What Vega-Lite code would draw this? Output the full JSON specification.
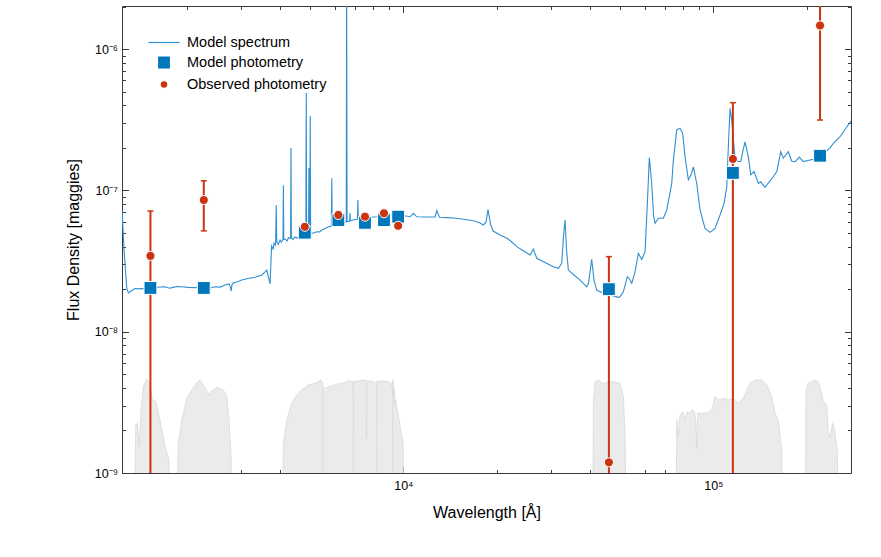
{
  "$schema": "https://vega.github.io/schema/vega-lite/v6.json",
  "width": 729,
  "height": 467,
  "autosize": {"type": "none"},
  "padding": {"left": 122, "top": 6, "right": 30, "bottom": 84},
  "background": "white",
  "config": {
    "font": "Liberation Sans",
    "view": {"stroke": "#3a3a3a", "strokeWidth": 1},
    "axis": {
      "grid": false,
      "domain": false,
      "tickColor": "#3a3a3a",
      "tickWidth": 1,
      "labelColor": "#000000",
      "labelFont": "Liberation Sans",
      "labelFontSize": 12.5,
      "titleFont": "Liberation Sans",
      "titleFontSize": 16,
      "titleFontWeight": "normal",
      "titleColor": "#000000",
      "labelOverlap": false,
      "labelFlush": false
    }
  },
  "datasets": {
    "spectrum": [
      {"w": 1238, "f": 7.15e-8}, {"w": 1256, "f": 3.79e-8}, {"w": 1281, "f": 2.04e-8}, {"w": 1297, "f": 1.88e-8},
      {"w": 1323, "f": 1.94e-8}, {"w": 1363, "f": 2.02e-8}, {"w": 1425, "f": 2.01e-8}, {"w": 1501, "f": 2.06e-8},
      {"w": 1540, "f": 1.98e-8}, {"w": 1581, "f": 2.04e-8}, {"w": 1640, "f": 2.07e-8}, {"w": 1703, "f": 2.08e-8},
      {"w": 1760, "f": 2.03e-8}, {"w": 1807, "f": 2.06e-8}, {"w": 1870, "f": 2.09e-8}, {"w": 1929, "f": 2.08e-8},
      {"w": 2021, "f": 2.06e-8}, {"w": 2129, "f": 2.05e-8}, {"w": 2200, "f": 2.09e-8}, {"w": 2276, "f": 2.06e-8},
      {"w": 2370, "f": 2.03e-8}, {"w": 2470, "f": 2.08e-8}, {"w": 2563, "f": 2.07e-8}, {"w": 2660, "f": 2.14e-8},
      {"w": 2740, "f": 2.18e-8}, {"w": 2770, "f": 2.05e-8}, {"w": 2782, "f": 1.94e-8}, {"w": 2800, "f": 2.15e-8},
      {"w": 2823, "f": 2.21e-8}, {"w": 2920, "f": 2.26e-8}, {"w": 3011, "f": 2.32e-8}, {"w": 3155, "f": 2.38e-8},
      {"w": 3323, "f": 2.43e-8}, {"w": 3493, "f": 2.52e-8}, {"w": 3580, "f": 2.65e-8}, {"w": 3626, "f": 2.73e-8},
      {"w": 3675, "f": 2.40e-8}, {"w": 3715, "f": 2.18e-8}, {"w": 3740, "f": 3.1e-8}, {"w": 3757, "f": 4.04e-8},
      {"w": 3800, "f": 3.85e-8}, {"w": 3827, "f": 4.24e-8}, {"w": 3860, "f": 4.1e-8}, {"w": 3873, "f": 4.3e-8},
      {"w": 3889, "f": 7.88e-8}, {"w": 3905, "f": 4.35e-8}, {"w": 3950, "f": 4.15e-8}, {"w": 4002, "f": 4.46e-8},
      {"w": 4040, "f": 4.3e-8}, {"w": 4090, "f": 4.5e-8}, {"w": 4102, "f": 1.09e-7}, {"w": 4114, "f": 4.5e-8},
      {"w": 4154, "f": 4.53e-8}, {"w": 4220, "f": 4.4e-8}, {"w": 4260, "f": 4.62e-8}, {"w": 4310, "f": 4.58e-8},
      {"w": 4328, "f": 4.6e-8}, {"w": 4341, "f": 2.0e-7}, {"w": 4354, "f": 4.62e-8}, {"w": 4400, "f": 4.5e-8},
      {"w": 4473, "f": 4.68e-8}, {"w": 4560, "f": 4.6e-8}, {"w": 4643, "f": 4.83e-8}, {"w": 4730, "f": 4.75e-8},
      {"w": 4819, "f": 4.91e-8}, {"w": 4846, "f": 4.93e-8}, {"w": 4861, "f": 4.89e-7}, {"w": 4876, "f": 4.94e-8},
      {"w": 4944, "f": 4.96e-8}, {"w": 4959, "f": 1.44e-7}, {"w": 4974, "f": 4.97e-8}, {"w": 4992, "f": 4.98e-8},
      {"w": 5007, "f": 3.36e-7}, {"w": 5022, "f": 4.99e-8}, {"w": 5130, "f": 5.0e-8}, {"w": 5255, "f": 5.10e-8},
      {"w": 5360, "f": 5.08e-8}, {"w": 5466, "f": 5.24e-8}, {"w": 5716, "f": 5.51e-8}, {"w": 5858, "f": 5.6e-8},
      {"w": 5876, "f": 1.22e-7}, {"w": 5894, "f": 5.62e-8}, {"w": 5946, "f": 5.69e-8}, {"w": 6249, "f": 5.83e-8},
      {"w": 6543, "f": 6.0e-8}, {"w": 6563, "f": 3.0e-6}, {"w": 6583, "f": 6.01e-8}, {"w": 6710, "f": 6.08e-8},
      {"w": 6730, "f": 6.92e-8}, {"w": 6750, "f": 6.1e-8}, {"w": 6881, "f": 6.17e-8}, {"w": 7115, "f": 6.28e-8},
      {"w": 7136, "f": 8.55e-8}, {"w": 7157, "f": 6.3e-8}, {"w": 7249, "f": 6.35e-8}, {"w": 7691, "f": 6.43e-8},
      {"w": 8209, "f": 6.51e-8}, {"w": 8796, "f": 6.64e-8}, {"w": 9521, "f": 6.70e-8}, {"w": 9977, "f": 6.64e-8},
      {"w": 10510, "f": 6.51e-8}, {"w": 10772, "f": 6.88e-8}, {"w": 11046, "f": 6.51e-8}, {"w": 11749, "f": 6.48e-8},
      {"w": 12657, "f": 6.49e-8}, {"w": 12818, "f": 7.21e-8}, {"w": 13086, "f": 6.45e-8}, {"w": 13836, "f": 6.42e-8},
      {"w": 14870, "f": 6.35e-8}, {"w": 15812, "f": 6.22e-8}, {"w": 16819, "f": 6.10e-8}, {"w": 17548, "f": 5.93e-8},
      {"w": 18119, "f": 5.69e-8}, {"w": 18486, "f": 5.98e-8}, {"w": 18751, "f": 7.35e-8}, {"w": 19112, "f": 5.78e-8},
      {"w": 19471, "f": 5.16e-8}, {"w": 20507, "f": 4.83e-8}, {"w": 21556, "f": 4.58e-8}, {"w": 22093, "f": 4.42e-8},
      {"w": 23220, "f": 4.0e-8}, {"w": 24151, "f": 3.79e-8}, {"w": 25627, "f": 3.49e-8}, {"w": 26265, "f": 3.85e-8},
      {"w": 26932, "f": 3.31e-8}, {"w": 28648, "f": 3.09e-8}, {"w": 30467, "f": 2.88e-8}, {"w": 31623, "f": 2.81e-8},
      {"w": 32434, "f": 3.05e-8}, {"w": 32870, "f": 4.83e-8}, {"w": 33235, "f": 6.17e-8}, {"w": 33610, "f": 3.79e-8},
      {"w": 34062, "f": 2.73e-8}, {"w": 35528, "f": 2.52e-8}, {"w": 37154, "f": 2.32e-8}, {"w": 39049, "f": 2.08e-8},
      {"w": 39574, "f": 2.21e-8}, {"w": 40510, "f": 3.25e-8}, {"w": 41215, "f": 2.32e-8}, {"w": 42050, "f": 1.97e-8},
      {"w": 44167, "f": 1.87e-8}, {"w": 46419, "f": 1.82e-8}, {"w": 49367, "f": 1.75e-8}, {"w": 50003, "f": 1.77e-8},
      {"w": 51249, "f": 1.92e-8}, {"w": 52793, "f": 2.45e-8}, {"w": 53664, "f": 2.36e-8}, {"w": 54548, "f": 2.20e-8},
      {"w": 55895, "f": 2.65e-8}, {"w": 57287, "f": 3.59e-8}, {"w": 58742, "f": 3.25e-8}, {"w": 60205, "f": 3.68e-8},
      {"w": 61325, "f": 8.55e-8}, {"w": 62150, "f": 1.71e-7}, {"w": 63274, "f": 1.12e-7}, {"w": 64125, "f": 6.70e-8},
      {"w": 64850, "f": 5.85e-8}, {"w": 66450, "f": 6.35e-8}, {"w": 68964, "f": 6.35e-8}, {"w": 70731, "f": 7.27e-8},
      {"w": 73410, "f": 1.12e-7}, {"w": 74296, "f": 1.64e-7}, {"w": 76180, "f": 2.68e-7}, {"w": 77100, "f": 2.72e-7},
      {"w": 78080, "f": 2.75e-7}, {"w": 79610, "f": 2.54e-7}, {"w": 81030, "f": 1.73e-7}, {"w": 83050, "f": 1.19e-7},
      {"w": 84731, "f": 1.29e-7}, {"w": 86187, "f": 1.47e-7}, {"w": 88393, "f": 1.12e-7}, {"w": 90580, "f": 7.27e-8},
      {"w": 94000, "f": 5.39e-8}, {"w": 97590, "f": 5.05e-8}, {"w": 101270, "f": 5.39e-8}, {"w": 105100, "f": 6.70e-8},
      {"w": 108270, "f": 8.10e-8}, {"w": 110460, "f": 1.06e-7}, {"w": 111940, "f": 2.2e-7}, {"w": 113210, "f": 3.81e-7},
      {"w": 114600, "f": 3.15e-7}, {"w": 117490, "f": 1.69e-7}, {"w": 119510, "f": 1.61e-7}, {"w": 122570, "f": 1.60e-7},
      {"w": 124680, "f": 1.93e-7}, {"w": 126560, "f": 2.21e-7}, {"w": 129680, "f": 1.73e-7}, {"w": 132000, "f": 1.29e-7},
      {"w": 135300, "f": 1.36e-7}, {"w": 139700, "f": 1.12e-7}, {"w": 142200, "f": 1.15e-7}, {"w": 146810, "f": 1.05e-7},
      {"w": 152360, "f": 1.17e-7}, {"w": 156130, "f": 1.25e-7}, {"w": 160200, "f": 1.36e-7}, {"w": 164970, "f": 1.88e-7},
      {"w": 168180, "f": 1.69e-7}, {"w": 174540, "f": 1.88e-7}, {"w": 179000, "f": 1.61e-7}, {"w": 183500, "f": 1.60e-7},
      {"w": 189400, "f": 1.72e-7}, {"w": 195100, "f": 1.60e-7}, {"w": 210140, "f": 1.66e-7}, {"w": 221360, "f": 1.73e-7},
      {"w": 229210, "f": 1.87e-7}, {"w": 237890, "f": 2.0e-7}, {"w": 243800, "f": 2.15e-7}, {"w": 256310, "f": 2.40e-7},
      {"w": 274600, "f": 2.99e-7}, {"w": 278090, "f": 3.10e-7}
    ],
    "filters": [
      {"band": "FUV", "w": 1346, "t": 1e-10}, {"band": "FUV", "w": 1370, "t": 2.19e-9}, {"band": "FUV", "w": 1387, "t": 2.25e-9},
      {"band": "FUV", "w": 1404, "t": 1.54e-9}, {"band": "FUV", "w": 1425, "t": 2.79e-9}, {"band": "FUV", "w": 1450, "t": 4.08e-9},
      {"band": "FUV", "w": 1487, "t": 4.61e-9}, {"band": "FUV", "w": 1516, "t": 4.43e-9}, {"band": "FUV", "w": 1550, "t": 3.29e-9},
      {"band": "FUV", "w": 1590, "t": 3.2e-9}, {"band": "FUV", "w": 1641, "t": 2.37e-9}, {"band": "FUV", "w": 1703, "t": 1.54e-9},
      {"band": "FUV", "w": 1754, "t": 1.24e-9}, {"band": "FUV", "w": 1768, "t": 1e-10},
      {"band": "NUV", "w": 1825, "t": 1e-10}, {"band": "NUV", "w": 1880, "t": 1.62e-9}, {"band": "NUV", "w": 1929, "t": 2.37e-9},
      {"band": "NUV", "w": 2001, "t": 3.38e-9}, {"band": "NUV", "w": 2077, "t": 3.87e-9}, {"band": "NUV", "w": 2172, "t": 4.43e-9},
      {"band": "NUV", "w": 2209, "t": 4.55e-9}, {"band": "NUV", "w": 2281, "t": 4.08e-9}, {"band": "NUV", "w": 2362, "t": 3.57e-9},
      {"band": "NUV", "w": 2409, "t": 3.82e-9}, {"band": "NUV", "w": 2501, "t": 4.04e-9}, {"band": "NUV", "w": 2627, "t": 3.87e-9},
      {"band": "NUV", "w": 2694, "t": 3.47e-9}, {"band": "NUV", "w": 2740, "t": 2.37e-9}, {"band": "NUV", "w": 2782, "t": 1.3e-9},
      {"band": "NUV", "w": 2796, "t": 1e-10},
      {"band": "g", "w": 4032, "t": 1e-10}, {"band": "g", "w": 4102, "t": 1.62e-9}, {"band": "g", "w": 4207, "t": 2.37e-9},
      {"band": "g", "w": 4365, "t": 3.11e-9}, {"band": "g", "w": 4530, "t": 3.57e-9}, {"band": "g", "w": 4702, "t": 3.87e-9},
      {"band": "g", "w": 4938, "t": 4.2e-9}, {"band": "g", "w": 5191, "t": 4.31e-9}, {"band": "g", "w": 5426, "t": 4.55e-9},
      {"band": "g", "w": 5500, "t": 4.3e-9}, {"band": "g", "w": 5560, "t": 1.5e-9}, {"band": "g", "w": 5600, "t": 1e-10},
      {"band": "r", "w": 5480, "t": 1e-10}, {"band": "r", "w": 5500, "t": 3.85e-9}, {"band": "r", "w": 5560, "t": 3.98e-9},
      {"band": "r", "w": 5800, "t": 4.1e-9}, {"band": "r", "w": 6100, "t": 4.25e-9}, {"band": "r", "w": 6400, "t": 4.35e-9},
      {"band": "r", "w": 6700, "t": 4.5e-9}, {"band": "r", "w": 6880, "t": 4.4e-9}, {"band": "r", "w": 6950, "t": 1.5e-9},
      {"band": "r", "w": 7000, "t": 1e-10},
      {"band": "i", "w": 6890, "t": 1e-10}, {"band": "i", "w": 6900, "t": 4.45e-9}, {"band": "i", "w": 7200, "t": 4.5e-9},
      {"band": "i", "w": 7560, "t": 4.55e-9}, {"band": "i", "w": 7595, "t": 1.76e-9}, {"band": "i", "w": 7615, "t": 1.76e-9},
      {"band": "i", "w": 7640, "t": 4.5e-9}, {"band": "i", "w": 8000, "t": 4.45e-9}, {"band": "i", "w": 8250, "t": 4.2e-9},
      {"band": "i", "w": 8320, "t": 1.5e-9}, {"band": "i", "w": 8370, "t": 1e-10},
      {"band": "z", "w": 8195, "t": 1e-10}, {"band": "z", "w": 8209, "t": 4.45e-9}, {"band": "z", "w": 8500, "t": 4.5e-9},
      {"band": "z", "w": 8900, "t": 4.45e-9}, {"band": "z", "w": 9150, "t": 4.3e-9}, {"band": "z", "w": 9300, "t": 3.5e-9},
      {"band": "z", "w": 9400, "t": 1.2e-9}, {"band": "z", "w": 9450, "t": 1e-10},
      {"band": "y", "w": 9230, "t": 1e-10}, {"band": "y", "w": 9243, "t": 4.6e-9}, {"band": "y", "w": 9290, "t": 4.3e-9},
      {"band": "y", "w": 9330, "t": 3.47e-9}, {"band": "y", "w": 9360, "t": 3.9e-9}, {"band": "y", "w": 9400, "t": 3.0e-9},
      {"band": "y", "w": 9450, "t": 3.3e-9}, {"band": "y", "w": 9500, "t": 2.95e-9}, {"band": "y", "w": 9650, "t": 2.5e-9},
      {"band": "y", "w": 9850, "t": 1.9e-9}, {"band": "y", "w": 9980, "t": 1.62e-9}, {"band": "y", "w": 10127, "t": 1e-10},
      {"band": "W2", "w": 40700, "t": 1e-10}, {"band": "W2", "w": 41030, "t": 3.29e-9}, {"band": "W2", "w": 41550, "t": 4.43e-9},
      {"band": "W2", "w": 42560, "t": 4.55e-9}, {"band": "W2", "w": 44170, "t": 4.31e-9}, {"band": "W2", "w": 45840, "t": 4.43e-9},
      {"band": "W2", "w": 47580, "t": 4.43e-9}, {"band": "W2", "w": 50000, "t": 4.31e-9}, {"band": "W2", "w": 51250, "t": 3.47e-9},
      {"band": "W2", "w": 51900, "t": 1.91e-9}, {"band": "W2", "w": 52550, "t": 1e-10},
      {"band": "W3", "w": 75620, "t": 1e-10}, {"band": "W3", "w": 76180, "t": 2.37e-9}, {"band": "W3", "w": 77100, "t": 1.81e-9},
      {"band": "W3", "w": 78080, "t": 2.57e-9}, {"band": "W3", "w": 80020, "t": 2.72e-9}, {"band": "W3", "w": 81030, "t": 2.37e-9},
      {"band": "W3", "w": 82420, "t": 2.72e-9}, {"band": "W3", "w": 83660, "t": 2.65e-9}, {"band": "W3", "w": 85160, "t": 2.79e-9},
      {"band": "W3", "w": 86820, "t": 2.72e-9}, {"band": "W3", "w": 87730, "t": 2.37e-9}, {"band": "W3", "w": 88390, "t": 1.5e-9},
      {"band": "W3", "w": 89050, "t": 2.65e-9}, {"band": "W3", "w": 90580, "t": 2.65e-9}, {"band": "W3", "w": 95210, "t": 2.65e-9},
      {"band": "W3", "w": 98810, "t": 2.79e-9}, {"band": "W3", "w": 101270, "t": 3.47e-9}, {"band": "W3", "w": 103780, "t": 3.29e-9},
      {"band": "W3", "w": 107720, "t": 3.38e-9}, {"band": "W3", "w": 111790, "t": 3.29e-9}, {"band": "W3", "w": 116010, "t": 3.38e-9},
      {"band": "W3", "w": 120390, "t": 3.11e-9}, {"band": "W3", "w": 124960, "t": 3.38e-9}, {"band": "W3", "w": 131330, "t": 4.31e-9},
      {"band": "W3", "w": 136250, "t": 4.55e-9}, {"band": "W3", "w": 143260, "t": 4.55e-9}, {"band": "W3", "w": 148700, "t": 4.2e-9},
      {"band": "W3", "w": 154320, "t": 3.47e-9}, {"band": "W3", "w": 158120, "t": 2.65e-9}, {"band": "W3", "w": 162060, "t": 2.37e-9},
      {"band": "W3", "w": 166170, "t": 1.46e-9}, {"band": "W3", "w": 166940, "t": 1e-10},
      {"band": "W4", "w": 197590, "t": 1e-10}, {"band": "W4", "w": 199060, "t": 3.87e-9}, {"band": "W4", "w": 202500, "t": 4.31e-9},
      {"band": "W4", "w": 207640, "t": 4.43e-9}, {"band": "W4", "w": 212820, "t": 4.55e-9}, {"band": "W4", "w": 218090, "t": 4.43e-9},
      {"band": "W4", "w": 222030, "t": 3.87e-9}, {"band": "W4", "w": 226320, "t": 3.2e-9}, {"band": "W4", "w": 232120, "t": 3.03e-9},
      {"band": "W4", "w": 234920, "t": 1.91e-9}, {"band": "W4", "w": 237890, "t": 1.81e-9}, {"band": "W4", "w": 242690, "t": 2.25e-9},
      {"band": "W4", "w": 246870, "t": 1.96e-9}, {"band": "W4", "w": 251190, "t": 1.38e-9}, {"band": "W4", "w": 254980, "t": 1e-10}
    ],
    "phot": [
      {"band": "FUV", "w": 1528, "model": 2.04e-8, "obs": 3.44e-8, "lo": 1e-11, "hi": 7.15e-8},
      {"band": "NUV", "w": 2271, "model": 2.04e-8, "obs": 8.55e-8, "lo": 5.17e-8, "hi": 1.17e-7},
      {"band": "g", "w": 4810, "model": 5.02e-8, "obs": 5.53e-8, "lo": 5.25e-8, "hi": 5.81e-8},
      {"band": "r", "w": 6170, "model": 6.17e-8, "obs": 6.70e-8, "lo": 6.37e-8, "hi": 7.04e-8},
      {"band": "i", "w": 7520, "model": 5.90e-8, "obs": 6.52e-8, "lo": 6.19e-8, "hi": 6.85e-8},
      {"band": "z", "w": 8660, "model": 6.17e-8, "obs": 6.89e-8, "lo": 6.55e-8, "hi": 7.23e-8},
      {"band": "y", "w": 9620, "model": 6.52e-8, "obs": 5.62e-8, "lo": 5.34e-8, "hi": 5.90e-8},
      {"band": "W2", "w": 46028, "model": 2.00e-8, "obs": 1.19e-9, "lo": 1e-11, "hi": 3.40e-8},
      {"band": "W3", "w": 115608, "model": 1.33e-7, "obs": 1.67e-7, "lo": 1e-11, "hi": 4.18e-7},
      {"band": "W4", "w": 220883, "model": 1.76e-7, "obs": 1.47e-6, "lo": 3.15e-7, "hi": 1e-5}
    ]
  },
  "resolve": {"axis": {"x": "independent", "y": "independent"}},
  "layer": [
    {
      "data": {"name": "filters"},
      "mark": {"type": "area", "clip": true, "fill": "#ebebeb", "stroke": "#d4d4d4", "strokeWidth": 0.7, "opacity": 1},
      "encoding": {
        "x": {
          "field": "w", "type": "quantitative",
          "scale": {"type": "log", "domain": [1237, 278000], "nice": false},
          "axis": {"orient": "bottom", "values": [10000, 100000], "labelExpr": "datum.value < 50000 ? '10⁴' : '10⁵'", "tickSize": -6.5, "labelPadding": 13, "title": "Wavelength [Å]", "titlePadding": 12}
        },
        "y": {
          "field": "t", "type": "quantitative",
          "scale": {"type": "log", "domain": [1e-9, 2.02e-6], "nice": false},
          "axis": {"orient": "left", "values": [1e-9, 1e-8, 1e-7, 1e-6], "labelExpr": "datum.value < 5e-9 ? '10⁻⁹' : datum.value < 5e-8 ? '10⁻⁸' : datum.value < 5e-7 ? '10⁻⁷' : '10⁻⁶'", "tickSize": -6.5, "labelPadding": 11, "title": "Flux Density [maggies]", "titlePadding": 13}
        },
        "y2": {"datum": 1e-10},
        "detail": {"field": "band", "type": "nominal"}
      }
    },
    {
      "data": {"name": "spectrum"},
      "mark": {"type": "line", "clip": true, "strokeWidth": 1.1, "opacity": 1, "color": "#2f8fd0"},
      "encoding": {
        "x": {
          "field": "w", "type": "quantitative",
          "scale": {"type": "log", "domain": [1237, 278000], "nice": false},
          "axis": {"orient": "bottom", "values": [2000, 3000, 4000, 5000, 6000, 7000, 8000, 9000, 20000, 30000, 40000, 50000, 60000, 70000, 80000, 90000, 200000], "tickSize": -3.5, "labels": false, "title": null}
        },
        "y": {
          "field": "f", "type": "quantitative",
          "scale": {"type": "log", "domain": [1e-9, 2.02e-6], "nice": false},
          "axis": {"orient": "left", "values": [2e-9, 3e-9, 4e-9, 5e-9, 6e-9, 7e-9, 8e-9, 9e-9, 2e-8, 3e-8, 4e-8, 5e-8, 6e-8, 7e-8, 8e-8, 9e-8, 2e-7, 3e-7, 4e-7, 5e-7, 6e-7, 7e-7, 8e-7, 9e-7, 2e-6], "tickSize": -3.5, "labels": false, "title": null}
        }
      }
    },
    {
      "data": {"name": "phot"},
      "mark": {"type": "rule", "clip": true, "color": "#cc3311", "strokeWidth": 2, "opacity": 1},
      "encoding": {
        "x": {
          "field": "w", "type": "quantitative",
          "scale": {"type": "log", "domain": [1237, 278000], "nice": false},
          "axis": {"orient": "top", "values": [10000, 100000], "tickSize": -6.5, "labels": false, "title": null}
        },
        "y": {
          "field": "lo", "type": "quantitative",
          "scale": {"type": "log", "domain": [1e-9, 2.02e-6], "nice": false},
          "axis": {"orient": "right", "values": [1e-9, 1e-8, 1e-7, 1e-6], "tickSize": -6.5, "labels": false, "title": null}
        },
        "y2": {"field": "hi"}
      }
    },
    {
      "data": {"name": "phot"},
      "mark": {"type": "tick", "orient": "horizontal", "clip": true, "color": "#cc3311", "size": 6, "thickness": 1.5, "opacity": 1},
      "encoding": {
        "x": {
          "field": "w", "type": "quantitative",
          "scale": {"type": "log", "domain": [1237, 278000], "nice": false},
          "axis": {"orient": "top", "values": [2000, 3000, 4000, 5000, 6000, 7000, 8000, 9000, 20000, 30000, 40000, 50000, 60000, 70000, 80000, 90000, 200000], "tickSize": -3.5, "labels": false, "title": null}
        },
        "y": {
          "field": "lo", "type": "quantitative",
          "scale": {"type": "log", "domain": [1e-9, 2.02e-6], "nice": false},
          "axis": {"orient": "right", "values": [2e-9, 3e-9, 4e-9, 5e-9, 6e-9, 7e-9, 8e-9, 9e-9, 2e-8, 3e-8, 4e-8, 5e-8, 6e-8, 7e-8, 8e-8, 9e-8, 2e-7, 3e-7, 4e-7, 5e-7, 6e-7, 7e-7, 8e-7, 9e-7, 2e-6], "tickSize": -3.5, "labels": false, "title": null}
        }
      }
    },
    {
      "data": {"name": "phot"},
      "mark": {"type": "tick", "orient": "horizontal", "clip": true, "color": "#cc3311", "size": 6, "thickness": 1.5, "opacity": 1},
      "encoding": {
        "x": {"field": "w", "type": "quantitative", "scale": {"type": "log", "domain": [1237, 278000], "nice": false}, "axis": null},
        "y": {"field": "hi", "type": "quantitative", "scale": {"type": "log", "domain": [1e-9, 2.02e-6], "nice": false}, "axis": null}
      }
    },
    {
      "data": {"name": "phot"},
      "mark": {"type": "point", "filled": true, "size": 165, "strokeWidth": 1, "opacity": 1, "clip": true},
      "encoding": {
        "x": {"field": "w", "type": "quantitative", "scale": {"type": "log", "domain": [1237, 278000], "nice": false}, "axis": null},
        "y": {"field": "model", "type": "quantitative", "scale": {"type": "log", "domain": [1e-9, 2.02e-6], "nice": false}, "axis": null},
        "color": {
          "datum": "Model photometry",
          "scale": {"domain": ["Model spectrum", "Model photometry", "Observed photometry"], "range": ["#2f8fd0", "#0077bb", "#cc3311"]},
          "legend": {
            "title": null,
            "orient": "none",
            "legendX": 34.5,
            "legendY": 29,
            "padding": 0,
            "rowPadding": 4,
            "symbolSize": 169,
            "symbolStrokeWidth": 1.2,
            "symbolOpacity": 1,
            "labelFont": "Liberation Sans",
            "labelFontSize": 14.5,
            "labelColor": "#000000",
            "labelOffset": 15.5,
            "labelLimit": 300
          }
        },
        "shape": {
          "datum": "Model photometry",
          "scale": {"domain": ["Model spectrum", "Model photometry", "Observed photometry"], "range": ["M-2.4,0H2.4", "square", "M0.6,0A0.6,0.6,0,1,1,-0.6,0A0.6,0.6,0,1,1,0.6,0Z"]},
          "legend": {"title": null}
        },
        "stroke": {
          "datum": "Model photometry",
          "scale": {"domain": ["Model spectrum", "Model photometry", "Observed photometry"], "range": ["#2f8fd0", "#ffffff", "#ffffff"]},
          "legend": {"title": null}
        }
      }
    },
    {
      "data": {"name": "phot"},
      "mark": {"type": "point", "filled": true, "size": 230, "strokeWidth": 1, "opacity": 1, "clip": true},
      "encoding": {
        "x": {"field": "w", "type": "quantitative", "scale": {"type": "log", "domain": [1237, 278000], "nice": false}, "axis": null},
        "y": {"field": "obs", "type": "quantitative", "scale": {"type": "log", "domain": [1e-9, 2.02e-6], "nice": false}, "axis": null},
        "color": {"datum": "Observed photometry", "scale": {"domain": ["Model spectrum", "Model photometry", "Observed photometry"], "range": ["#2f8fd0", "#0077bb", "#cc3311"]}, "legend": {"title": null}},
        "shape": {"datum": "Observed photometry", "scale": {"domain": ["Model spectrum", "Model photometry", "Observed photometry"], "range": ["M-2.4,0H2.4", "square", "M0.6,0A0.6,0.6,0,1,1,-0.6,0A0.6,0.6,0,1,1,0.6,0Z"]}, "legend": {"title": null}},
        "stroke": {"datum": "Observed photometry", "scale": {"domain": ["Model spectrum", "Model photometry", "Observed photometry"], "range": ["#2f8fd0", "#ffffff", "#ffffff"]}, "legend": {"title": null}}
      }
    }
  ]
}
